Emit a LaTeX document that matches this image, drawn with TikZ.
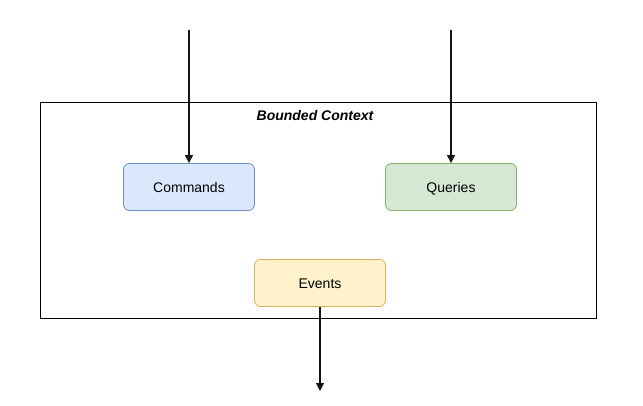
\documentclass[tikz,border=0pt]{standalone}
\usepackage{fontspec}
\setmainfont{Liberation Sans}
\usetikzlibrary{arrows.meta}
\begin{document}
\begin{tikzpicture}[x=1pt,y=-1pt,
  box/.style={draw, rounded corners=6pt, minimum width=131pt, minimum height=47pt,
              line width=0.8pt, font=\fontsize{14}{16}\selectfont, inner sep=0pt,
              text height=10pt, text depth=0pt},
  cmd/.style={box, fill={rgb,255:red,218;green,232;blue,252}, draw={rgb,255:red,108;green,142;blue,191}},
  qry/.style={box, fill={rgb,255:red,213;green,232;blue,212}, draw={rgb,255:red,130;green,179;blue,102}},
  evt/.style={box, fill={rgb,255:red,255;green,242;blue,204}, draw={rgb,255:red,214;green,182;blue,86}},
  flow/.style={-{Triangle[length=8pt,width=8pt]}, line width=1.1pt, draw={rgb,255:red,20;green,20;blue,20}}]
  \useasboundingbox (0,0) rectangle (643,405);
  % bounded context frame
  \node[draw, line width=1pt, minimum width=556pt, minimum height=216pt, inner sep=0pt,
        anchor=north west] (ctx) at (40,102) {};
  \node[font=\fontsize{14}{16}\selectfont\bfseries\itshape] (title) at (315,115) {Bounded Context};
  % parts of the context
  \node[cmd] (commands) at (189,187) {Commands};
  \node[qry] (queries) at (451,187) {Queries};
  \node[evt] (events) at (320,283) {Events};
  % incoming and outgoing flows
  \coordinate (cin) at (189,30);
  \coordinate (qin) at (451,30);
  \coordinate (eout) at (320,391);
  \draw[flow] (cin) -- (commands.north);
  \draw[flow] (qin) -- (queries.north);
  \draw[flow] (events.south) -- (eout);
\end{tikzpicture}
\end{document}
